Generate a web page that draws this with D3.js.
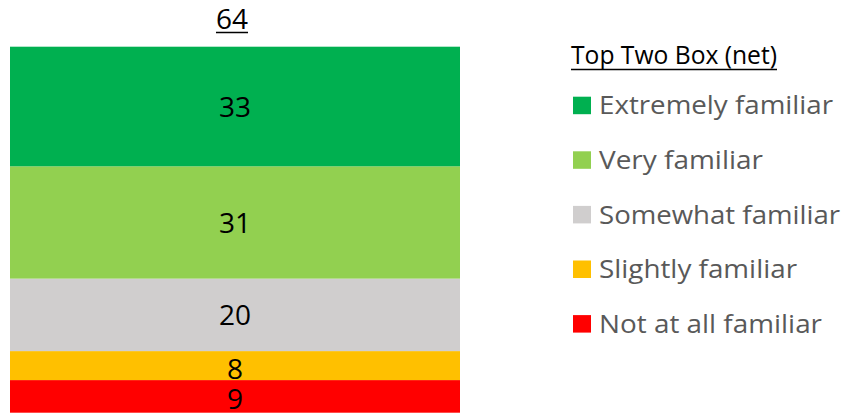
<!DOCTYPE html>
<html><head><meta charset="utf-8">
<script src="https://cdn.jsdelivr.net/npm/d3@7"></script>
<style>html,body{margin:0;padding:0;background:#fff;}svg{display:block;}</style>
</head><body>
<svg id="chart" width="846" height="413"></svg>
<script>
const categories = ["Extremely familiar","Very familiar","Somewhat familiar","Slightly familiar","Not at all familiar"];
const values = [33,31,20,8,9];
const colors = ["#00B050","#92D050","#D0CECE","#FFC000","#FF0000"];
const netLabel = "64";
const legendTitle = "Top Two Box (net)";
const legendWidths = [234,164,241,198,223];

const svg = d3.select("#chart");
const total = d3.sum(values);
const y = d3.scaleLinear().domain([0,total]).range([412.7,46.7]);
const x = d3.scaleBand().domain(["all"]).range([10,460]).padding(0);

let cum = 0;
const segs = [];
for (let i = values.length-1; i >= 0; i--) {
  segs.push({cat:categories[i], v:values[i], c:colors[i], y0:cum, y1:cum+values[i]});
  cum += values[i];
}
svg.selectAll("rect.seg").data(segs).join("rect")
  .attr("class","seg")
  .attr("x", x("all")).attr("width", x.bandwidth())
  .attr("y", d=>y(d.y1)).attr("height", d=>y(d.y0)-y(d.y1))
  .attr("fill", d=>d.c);

const fsN = 28;
svg.selectAll("text.val").data(segs).join("text")
  .attr("class","val")
  .attr("x", x("all")+x.bandwidth()/2)
  .attr("y", d=>(y(d.y0)+y(d.y1))/2 + fsN*0.36 + (d.v < 10 ? 3 : 0))
  .attr("text-anchor","middle")
  .attr("font-family","'Open Sans', sans-serif")
  .attr("font-size", fsN).attr("fill","#000")
  .text(d=>d.v);

const net = svg.append("text")
  .attr("x", 232).attr("y", 29)
  .attr("text-anchor","middle")
  .attr("font-family","'Open Sans', sans-serif")
  .attr("font-size", fsN).attr("fill","#000")
  .text(netLabel);
const nb = net.node().getBBox();
svg.append("line").attr("x1",nb.x).attr("x2",nb.x+nb.width)
  .attr("y1",32.5).attr("y2",32.5).attr("stroke","#000").attr("stroke-width",1.5);

const fsL = 25;
svg.append("text").attr("x",571).attr("y",63.5)
  .attr("font-family","'Open Sans', sans-serif").attr("font-size",fsL)
  .attr("fill","#000").attr("textLength",206).attr("lengthAdjust","spacingAndGlyphs")
  .text(legendTitle);
svg.append("line").attr("x1",571).attr("x2",777).attr("y1",69.5).attr("y2",69.5)
  .attr("stroke","#000").attr("stroke-width",1.5);

const ly = d3.scaleBand().domain(categories).range([78.1,351.1]);
const lg = svg.selectAll("g.leg").data(categories).join("g").attr("class","leg")
  .attr("transform", d=>`translate(0,${ly(d)+ly.bandwidth()/2})`);
lg.append("rect").attr("x",573).attr("y",-8.7).attr("width",18).attr("height",17.5)
  .attr("fill",(d,i)=>colors[i]);
lg.append("text").attr("x",599).attr("y",9)
  .attr("font-family","'Open Sans', sans-serif").attr("font-size",fsL)
  .attr("fill","#595959")
  .attr("textLength",(d,i)=>legendWidths[i]).attr("lengthAdjust","spacingAndGlyphs")
  .text(d=>d);
</script>
</body></html>
